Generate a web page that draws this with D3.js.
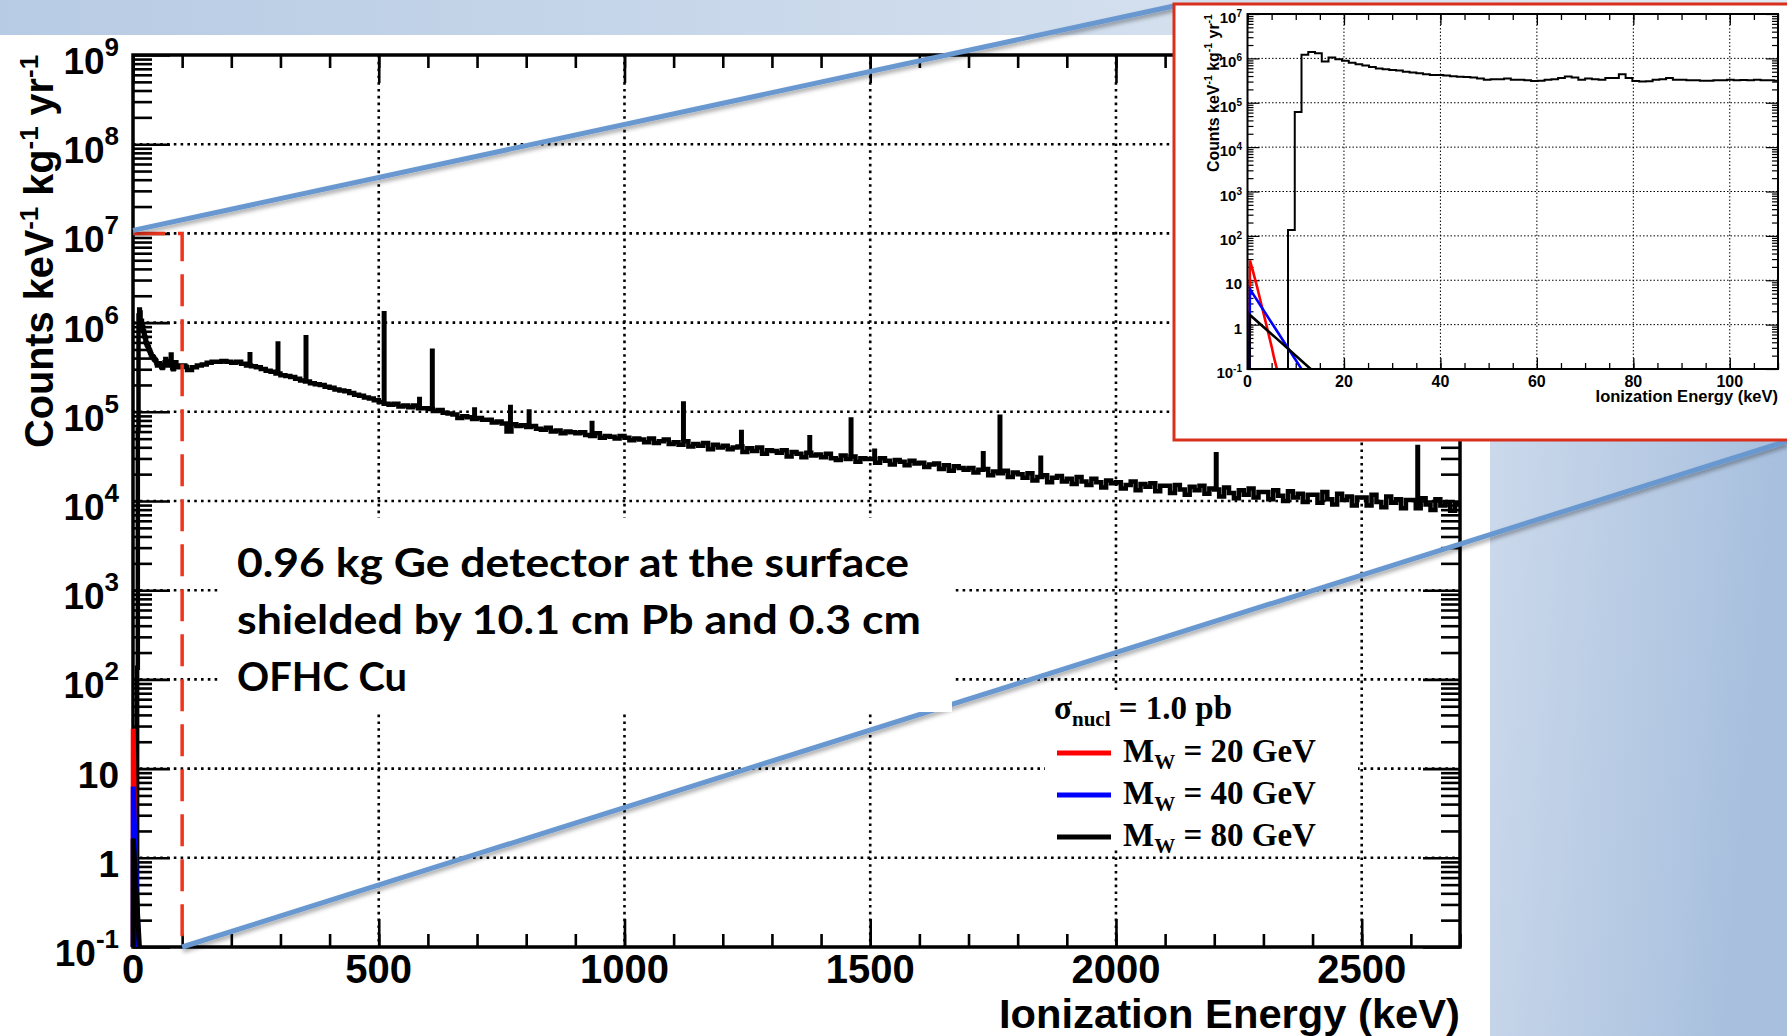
<!DOCTYPE html>
<html>
<head>
<meta charset="utf-8">
<script src="https://cdn.jsdelivr.net/npm/d3@7/dist/d3.min.js"></script>
<style>
  html, body { margin: 0; padding: 0; background: #fff; }
  svg { display: block; }
</style>
</head>
<body>
<svg id="chart" width="1787" height="1036"></svg>
<script>
// ---------- data ----------
// main spectrum, 10 keV bins from 110 keV, log10(counts / keV / kg / yr)
const specStart = 110, specBin = 10;
const specLog = [
  5.47,5.50,5.52,5.53,5.55,5.56,5.56,5.57,5.56,
  5.55,5.56,5.54,5.52,5.51,5.50,5.48,5.46,5.45,5.43,
  5.41,5.40,5.39,5.37,5.35,5.34,5.32,5.31,5.30,5.28,
  5.27,5.25,5.24,5.23,5.21,5.19,5.18,5.16,5.15,5.13,
  5.11,5.09,5.08,5.09,5.06,5.07,5.05,5.07,5.04,5.04,
  5.03,5.01,5.02,4.99,4.98,4.97,4.93,4.95,4.94,4.92,
  4.93,4.91,4.91,4.88,4.89,4.87,4.78,4.86,4.84,4.85,
  4.83,4.84,4.81,4.80,4.82,4.78,4.79,4.76,4.78,4.77,
  4.76,4.77,4.74,4.73,4.76,4.71,4.73,4.72,4.70,4.73,
  4.71,4.68,4.70,4.69,4.66,4.70,4.65,4.67,4.69,4.64,
  4.66,4.63,4.67,4.61,4.64,4.62,4.65,4.58,4.63,4.60,
  4.62,4.58,4.60,4.61,4.55,4.59,4.56,4.60,4.53,4.57,
  4.56,4.54,4.57,4.50,4.55,4.53,4.49,4.54,4.51,4.52,
  4.49,4.53,4.48,4.46,4.51,4.47,4.50,4.44,4.48,4.47,
  4.47,4.43,4.48,4.45,4.41,4.46,4.44,4.40,4.45,4.42,
  4.43,4.38,4.41,4.42,4.36,4.40,4.34,4.39,4.37,4.35,
  4.37,4.32,4.35,4.36,4.29,4.33,4.31,4.34,4.27,4.32,
  4.30,4.26,4.31,4.23,4.27,4.29,4.21,4.26,4.28,4.22,
  4.25,4.19,4.27,4.22,4.18,4.25,4.21,4.15,4.23,4.20,
  4.21,4.14,4.18,4.22,4.12,4.19,4.16,4.20,4.11,4.17,
  4.17,4.09,4.18,4.13,4.07,4.16,4.12,4.17,4.08,4.14,
  4.13,4.05,4.15,4.09,4.03,4.12,4.07,4.14,4.04,4.10,
  4.10,4.02,4.12,4.06,4.00,4.11,4.04,4.08,3.99,4.07,
  4.07,3.98,4.10,4.02,3.96,4.08,4.01,4.05,3.95,4.04,
  4.04,3.95,4.07,3.99,3.93,4.05,3.98,4.02,3.92,4.01,
  4.01,3.92,4.03,3.96,3.90,4.02,3.95,3.99,3.89,3.97
];
// gamma lines: energy (keV) and log10 of the peak top
const peakE   = [238, 295, 352, 511, 583, 609, 695, 768, 806, 934, 1120, 1238, 1377, 1461, 1509, 1730, 1764, 1847, 2204, 2614];
const peakLog = [5.65,5.77,5.84,6.11,5.15,5.69,5.03,5.06,5.01,4.88,5.10, 4.78, 4.72, 4.92, 4.57, 4.54, 4.95, 4.49, 4.53, 4.61];

// low energy part (inset), 1.4 keV bins from 0 keV, counts / keV / kg / yr
const lowBin = 1.4;
const lowCounts = [
  0, 0, 0, 0, 0, 0, 135, 6.2e4, 1.2e6, 1.4e6,
  1.3e6, 8.5e5, 1.05e6, 9.6e5, 8.8e5, 8.0e5, 7.4e5, 6.9e5, 6.4e5, 5.9e5,
  5.7e5, 5.5e5, 5.3e5, 5.0e5, 4.8e5, 4.6e5, 4.4e5, 4.2e5, 4.2e5, 4.1e5,
  3.95e5, 3.85e5, 3.8e5, 3.7e5, 3.5e5, 3.3e5, 3.4e5, 3.4e5, 3.5e5, 3.3e5,
  3.3e5, 3.2e5, 3.1e5, 3.15e5, 3.3e5, 3.4e5, 3.6e5, 3.9e5, 3.7e5, 3.3e5,
  3.5e5, 3.4e5, 3.3e5, 3.6e5, 3.6e5, 4.4e5, 3.6e5, 3.1e5, 3.0e5, 3.05e5,
  3.3e5, 3.4e5, 3.6e5, 3.3e5, 3.3e5, 3.2e5, 3.2e5, 3.15e5, 3.15e5, 3.2e5,
  3.2e5, 3.3e5, 3.2e5, 3.25e5, 3.2e5, 3.3e5, 3.2e5, 3.2e5, 3.15e5
];

// WIMP recoil spectra, sigma_nucl = 1.0 pb
const wimp20E = [0.4, 0.5, 1, 2, 3, 4, 5, 5.5, 6.1];
const wimp20V = [0.1, 28, 18, 7, 2.5, 0.9, 0.32, 0.18, 0.1];
const wimp40E = [0.4, 0.5, 5, 11.2];
const wimp40V = [0.1, 6.3, 1.1, 0.1];
const wimp80E = [0.4, 0.5, 6, 13.1];
const wimp80V = [0.1, 1.65, 0.49, 0.1];

const legendMass   = [20, 40, 80];
const legendColor  = ["#ff0000", "#0000ff", "#000000"];
const noteLines = ["0.96 kg Ge detector at the surface", "shielded by 10.1 cm Pb and 0.3 cm", "OFHC Cu"];

const xMajor = [0, 500, 1000, 1500, 2000, 2500];
const yExp = [-1, 0, 1, 2, 3, 4, 5, 6, 7, 8, 9];
const insetXMajor = [0, 20, 40, 60, 80, 100];
const insetYExp = [-1, 0, 1, 2, 3, 4, 5, 6, 7];
const zoomE = 100, zoomTop = 1e7;

// ---------- setup ----------
const svg = d3.select("#chart");
const SANS = "'Liberation Sans', Arial, Helvetica, sans-serif";
const SERIF = "'Liberation Serif', 'Times New Roman', serif";

const x = d3.scaleLinear().domain([0, 2700]).range([133, 1460]);
const y = d3.scaleLog().domain([0.1, 1e9]).range([947, 55]);
const xi = d3.scaleLinear().domain([0, 110]).range([1247.5, 1778]);
const yi = d3.scaleLog().domain([0.1, 1e7]).range([369, 14]);

const defs = svg.append("defs");
const band = defs.append("linearGradient").attr("id", "band").attr("x1", 0).attr("x2", 1).attr("y1", 0).attr("y2", 0);
band.append("stop").attr("offset", 0).attr("stop-color", "#b7cbe4");
band.append("stop").attr("offset", 1).attr("stop-color", "#e2eaf3");
const panel = defs.append("linearGradient").attr("id", "panel").attr("x1", 0).attr("x2", 1).attr("y1", 0).attr("y2", 0.3);
panel.append("stop").attr("offset", 0).attr("stop-color", "#d0dced");
panel.append("stop").attr("offset", 1).attr("stop-color", "#a8c0de");
const shadow = defs.append("filter").attr("id", "shadow").attr("x", "-5%").attr("y", "-20%").attr("width", "110%").attr("height", "140%");
shadow.append("feDropShadow").attr("dx", 1).attr("dy", 3).attr("stdDeviation", 2)
  .attr("flood-color", "#000").attr("flood-opacity", 0.35);
defs.append("clipPath").attr("id", "clipMain").append("rect")
  .attr("x", x(0)).attr("y", y(1e9)).attr("width", x(2700) - x(0)).attr("height", y(0.1) - y(1e9));
defs.append("clipPath").attr("id", "clipInset").append("rect")
  .attr("x", xi(0)).attr("y", yi(1e7)).attr("width", xi(110) - xi(0)).attr("height", yi(0.1) - yi(1e7));

// slide background
svg.append("rect").attr("width", 1787).attr("height", 1036).attr("fill", "#fff");
svg.append("rect").attr("x", 0).attr("y", 0).attr("width", 1787).attr("height", 35).attr("fill", "url(#band)");
svg.append("rect").attr("x", 1490).attr("y", 35).attr("width", 297).attr("height", 1001).attr("fill", "url(#panel)");

// helpers
function powLabel(sel, e, supSize, supDy) {
  if (e === 0) sel.text("1");
  else if (e === 1) sel.text("10");
  else {
    sel.append("tspan").text("10");
    sel.append("tspan").attr("font-size", supSize).attr("dy", supDy).text(e);
  }
}
function stepPoints(start, width, vals) {
  const pts = vals.map((v, i) => [start + i * width, v]);
  pts.push([start + vals.length * width, vals[vals.length - 1]]);
  return pts;
}
function minorLog(e0, e1) {
  const out = [];
  for (let e = e0; e < e1; e++) for (let m = 2; m <= 9; m++) out.push(m * Math.pow(10, e));
  return out;
}
function styleAxis(g, w) {
  g.select(".domain").remove();
  g.selectAll("line").attr("stroke", "#000").attr("stroke-width", w);
}
function unitTitle(sel, supSize, supDy) {
  [["Counts keV", "-1"], [" kg", "-1"], [" yr", "-1"]].forEach(([t, s], i) => {
    sel.append("tspan").attr("dy", i ? -supDy : 0).text(t);
    sel.append("tspan").attr("font-size", supSize).attr("dy", supDy).text(s);
  });
}

// ---------- main plot ----------
const main = svg.append("g");

// dotted grid
main.append("g").selectAll("line").data(yExp.slice(1, -1)).join("line")
  .attr("x1", x(0)).attr("x2", x(2700))
  .attr("y1", d => y(Math.pow(10, d))).attr("y2", d => y(Math.pow(10, d)))
  .attr("stroke", "#000").attr("stroke-width", 2.6).attr("stroke-dasharray", "2.6,4.2");
main.append("g").selectAll("line").data(xMajor.slice(1)).join("line")
  .attr("x1", d => x(d)).attr("x2", d => x(d))
  .attr("y1", y(1e9)).attr("y2", y(0.1))
  .attr("stroke", "#000").attr("stroke-width", 2.6).attr("stroke-dasharray", "2.6,4.2");

// ticks
const xMinor = d3.range(0, 2701, 100);
const yDec = yExp.map(e => Math.pow(10, e));
const yMin = minorLog(-1, 9);
main.append("g").attr("transform", `translate(0,${y(0.1)})`)
  .call(d3.axisBottom(x).tickValues(xMinor).tickSize(-13).tickFormat("")).call(g => styleAxis(g, 2.6));
main.append("g").attr("transform", `translate(0,${y(0.1)})`)
  .call(d3.axisBottom(x).tickValues(xMajor).tickSize(-28).tickFormat("")).call(g => styleAxis(g, 2.6));
main.append("g").attr("transform", `translate(0,${y(1e9)})`)
  .call(d3.axisTop(x).tickValues(xMinor).tickSize(-13).tickFormat("")).call(g => styleAxis(g, 2.6));
main.append("g").attr("transform", `translate(0,${y(1e9)})`)
  .call(d3.axisTop(x).tickValues(xMajor).tickSize(-28).tickFormat("")).call(g => styleAxis(g, 2.6));
main.append("g").attr("transform", `translate(${x(0)},0)`)
  .call(d3.axisLeft(y).tickValues(yMin).tickSize(-19).tickFormat("")).call(g => styleAxis(g, 2.6));
main.append("g").attr("transform", `translate(${x(0)},0)`)
  .call(d3.axisLeft(y).tickValues(yDec).tickSize(-37).tickFormat("")).call(g => styleAxis(g, 2.6));
main.append("g").attr("transform", `translate(${x(2700)},0)`)
  .call(d3.axisRight(y).tickValues(yMin).tickSize(-19).tickFormat("")).call(g => styleAxis(g, 2.6));
main.append("g").attr("transform", `translate(${x(2700)},0)`)
  .call(d3.axisRight(y).tickValues(yDec).tickSize(-37).tickFormat("")).call(g => styleAxis(g, 2.6));

// spectrum
const lowPts = stepPoints(0, lowBin, lowCounts).filter(p => p[0] < specStart);
const specPts = stepPoints(specStart, specBin, specLog.map(v => Math.pow(10, v)));
const histLine = (sx, sy, lo) => d3.line().curve(d3.curveStepAfter)
  .x(d => sx(d[0])).y(d => sy(Math.max(d[1], lo)));
const dataG = main.append("g").attr("clip-path", "url(#clipMain)");
dataG.append("path").datum(lowPts.concat(specPts))
  .attr("d", histLine(x, y, 0.1))
  .attr("fill", "none").attr("stroke", "#000").attr("stroke-width", 4.5).attr("stroke-linejoin", "miter");
dataG.append("g").selectAll("path").data(peakE.map((e, i) => ({ e, top: Math.pow(10, peakLog[i]),
    base: Math.pow(10, specLog[Math.floor((e - specStart) / specBin)]) })))
  .join("path")
  .attr("d", d => `M${x(d.e - 1.5)},${y(d.base)}V${y(d.top)}H${x(d.e + 1.5)}V${y(d.base)}`)
  .attr("fill", "#000").attr("stroke", "#000").attr("stroke-width", 3.5);

// frame
main.append("rect").attr("x", x(0)).attr("y", y(1e9)).attr("width", x(2700) - x(0)).attr("height", y(0.1) - y(1e9))
  .attr("fill", "none").attr("stroke", "#000").attr("stroke-width", 3.5);

// WIMP curves (drawn over the left frame edge, as in the picture)
const wimps = [[wimp20E, wimp20V, legendColor[0]], [wimp40E, wimp40V, legendColor[1]], [wimp80E, wimp80V, legendColor[2]]];
const wLine = (sx, sy) => d3.line().x(d => sx(d[0])).y(d => sy(d[1]));
wimps.forEach(([es, vs, c]) => {
  main.append("path").datum(es.map((e, i) => [e, vs[i]]))
    .attr("d", wLine(x, y)).attr("fill", "none").attr("stroke", c).attr("stroke-width", 5);
});

// tick labels
main.append("g").selectAll("text").data(yExp).join("text")
  .attr("x", 119).attr("y", d => y(Math.pow(10, d)) + 19)
  .attr("text-anchor", "end").attr("font-family", SANS).attr("font-weight", "bold").attr("font-size", 37)
  .each(function (d) { powLabel(d3.select(this), d, 26, -18); });
main.append("g").selectAll("text").data(xMajor).join("text")
  .attr("x", d => x(d)).attr("y", 983)
  .attr("text-anchor", "middle").attr("font-family", SANS).attr("font-weight", "bold").attr("font-size", 40)
  .text(d => d);

// axis titles
main.append("text").attr("x", x(2700)).attr("y", 1028).attr("text-anchor", "end")
  .attr("font-family", SANS).attr("font-weight", "bold").attr("font-size", 40)
  .attr("textLength", 461).attr("lengthAdjust", "spacingAndGlyphs")
  .text("Ionization Energy (keV)");
const yt = main.append("text").attr("transform", `translate(53,448) rotate(-90)`)
  .attr("font-family", SANS).attr("font-weight", "bold").attr("font-size", 40)
  .attr("textLength", 448 - y(1e9)).attr("lengthAdjust", "spacingAndGlyphs");
unitTitle(yt, 26, -15);

// zoom region marker
main.append("path")
  .attr("d", `M${x(0)},${y(zoomTop)}H${x(zoomE)}V${y(0.1)}`)
  .attr("fill", "none").attr("stroke", "#f0341c").attr("stroke-width", 3.5).attr("stroke-dasharray", "32,13");

// callout lines to the inset
const callout = svg.append("g").attr("filter", "url(#shadow)");
callout.append("line").attr("x1", x(0)).attr("y1", y(zoomTop) - 3).attr("x2", 1174).attr("y2", 6)
  .attr("stroke", "#6898cf").attr("stroke-width", 5);
callout.append("line").attr("x1", x(zoomE)).attr("y1", y(0.1)).attr("x2", 1787).attr("y2", 441)
  .attr("stroke", "#6898cf").attr("stroke-width", 5);

// text box
svg.append("rect").attr("x", 220).attr("y", 518).attr("width", 732).attr("height", 194).attr("fill", "#fff");
const noteLen = [672, 684, 170];
svg.append("g").selectAll("text").data(noteLines).join("text")
  .attr("x", 237).attr("y", (d, i) => 577 + i * 57)
  .attr("font-family", "Lato, 'Open Sans', sans-serif").attr("font-weight", "bold").attr("font-size", 40)
  .attr("textLength", (d, i) => noteLen[i]).attr("lengthAdjust", "spacingAndGlyphs")
  .text(d => d);

// legend
svg.append("rect").attr("x", 1045).attr("y", 690).attr("width", 313).attr("height", 160).attr("fill", "#fff");
const lg = svg.append("g").attr("font-family", SERIF).attr("font-weight", "bold").attr("font-size", 33);
const sig = lg.append("text").attr("x", 1054).attr("y", 719);
sig.append("tspan").text("σ");
sig.append("tspan").attr("font-size", 21).attr("dy", 7).text("nucl");
sig.append("tspan").attr("dy", -7).text(" = 1.0 pb");
legendMass.forEach((m, i) => {
  const by = 762 + i * 42;
  lg.append("line").attr("x1", 1057).attr("x2", 1111).attr("y1", by - 9).attr("y2", by - 9)
    .attr("stroke", legendColor[i]).attr("stroke-width", 5);
  const t = lg.append("text").attr("x", 1123).attr("y", by);
  t.append("tspan").text("M");
  t.append("tspan").attr("font-size", 21).attr("dy", 7).text("W");
  t.append("tspan").attr("dy", -7).text(` = ${m} GeV`);
});

// ---------- inset ----------
const inset = svg.append("g");
inset.append("rect").attr("x", 1174).attr("y", 4).attr("width", 630).attr("height", 436)
  .attr("fill", "#fff").attr("stroke", "#d8301c").attr("stroke-width", 3);

inset.append("g").selectAll("line").data(insetYExp.slice(1, -1)).join("line")
  .attr("x1", xi(0)).attr("x2", xi(110))
  .attr("y1", d => yi(Math.pow(10, d))).attr("y2", d => yi(Math.pow(10, d)))
  .attr("stroke", "#000").attr("stroke-width", 1).attr("stroke-dasharray", "1.5,2");
inset.append("g").selectAll("line").data(insetXMajor.slice(1)).join("line")
  .attr("x1", d => xi(d)).attr("x2", d => xi(d))
  .attr("y1", yi(1e7)).attr("y2", yi(0.1))
  .attr("stroke", "#000").attr("stroke-width", 1).attr("stroke-dasharray", "1.5,2");

const ixMinor = d3.range(0, 111, 5);
const iyDec = insetYExp.map(e => Math.pow(10, e));
const iyMin = minorLog(-1, 7);
inset.append("g").attr("transform", `translate(0,${yi(0.1)})`)
  .call(d3.axisBottom(xi).tickValues(ixMinor).tickSize(-6).tickFormat("")).call(g => styleAxis(g, 1.3));
inset.append("g").attr("transform", `translate(0,${yi(0.1)})`)
  .call(d3.axisBottom(xi).tickValues(insetXMajor).tickSize(-11).tickFormat("")).call(g => styleAxis(g, 1.3));
inset.append("g").attr("transform", `translate(0,${yi(1e7)})`)
  .call(d3.axisTop(xi).tickValues(ixMinor).tickSize(-6).tickFormat("")).call(g => styleAxis(g, 1.3));
inset.append("g").attr("transform", `translate(0,${yi(1e7)})`)
  .call(d3.axisTop(xi).tickValues(insetXMajor).tickSize(-11).tickFormat("")).call(g => styleAxis(g, 1.3));
inset.append("g").attr("transform", `translate(${xi(0)},0)`)
  .call(d3.axisLeft(yi).tickValues(iyMin).tickSize(-6).tickFormat("")).call(g => styleAxis(g, 1.2));
inset.append("g").attr("transform", `translate(${xi(0)},0)`)
  .call(d3.axisLeft(yi).tickValues(iyDec).tickSize(-12).tickFormat("")).call(g => styleAxis(g, 1.2));
inset.append("g").attr("transform", `translate(${xi(110)},0)`)
  .call(d3.axisRight(yi).tickValues(iyMin).tickSize(-6).tickFormat("")).call(g => styleAxis(g, 1.2));
inset.append("g").attr("transform", `translate(${xi(110)},0)`)
  .call(d3.axisRight(yi).tickValues(iyDec).tickSize(-12).tickFormat("")).call(g => styleAxis(g, 1.2));

const iData = inset.append("g").attr("clip-path", "url(#clipInset)");
iData.append("path").datum(stepPoints(0, lowBin, lowCounts))
  .attr("d", histLine(xi, yi, 0.1))
  .attr("fill", "none").attr("stroke", "#000").attr("stroke-width", 2);
wimps.forEach(([es, vs, c]) => {
  iData.append("path").datum(es.map((e, i) => [e, vs[i]]))
    .attr("d", wLine(xi, yi)).attr("fill", "none").attr("stroke", c).attr("stroke-width", 2.6);
});

inset.append("rect").attr("x", xi(0)).attr("y", yi(1e7)).attr("width", xi(110) - xi(0)).attr("height", yi(0.1) - yi(1e7))
  .attr("fill", "none").attr("stroke", "#000").attr("stroke-width", 2);

inset.append("g").selectAll("text").data(insetYExp).join("text")
  .attr("x", 1242).attr("y", d => yi(Math.pow(10, d)) + 9)
  .attr("text-anchor", "end").attr("font-family", SANS).attr("font-weight", "bold").attr("font-size", 15)
  .each(function (d) { powLabel(d3.select(this), d, 10, -6); });
inset.append("g").selectAll("text").data(insetXMajor).join("text")
  .attr("x", d => xi(d)).attr("y", 387)
  .attr("text-anchor", "middle").attr("font-family", SANS).attr("font-weight", "bold").attr("font-size", 16)
  .text(d => d);
inset.append("text").attr("x", xi(110)).attr("y", 402).attr("text-anchor", "end")
  .attr("font-family", SANS).attr("font-weight", "bold").attr("font-size", 16.5)
  .text("Ionization Energy (keV)");
const iyt = inset.append("text").attr("transform", `translate(1219,172) rotate(-90)`)
  .attr("font-family", SANS).attr("font-weight", "bold").attr("font-size", 16.5)
  .attr("textLength", 172 - yi(1e7)).attr("lengthAdjust", "spacingAndGlyphs");
unitTitle(iyt, 11, -7);
</script>
</body>
</html>
